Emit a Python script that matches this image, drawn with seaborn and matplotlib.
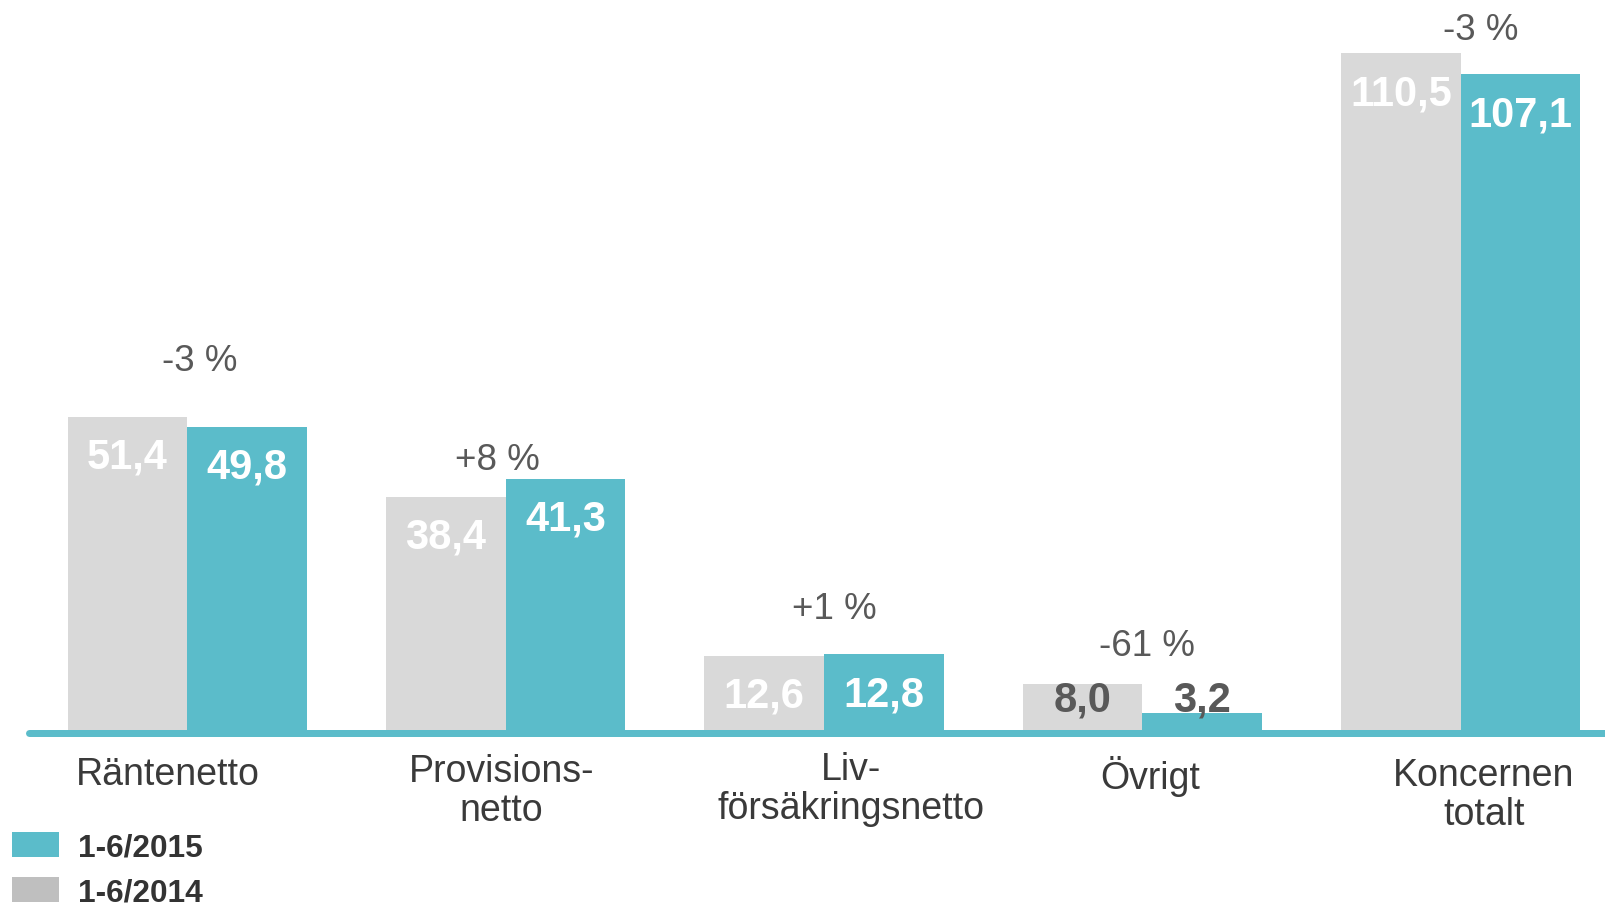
import matplotlib
matplotlib.use("Agg")
import matplotlib.pyplot as plt
import matplotlib.transforms as mtransforms
from matplotlib.patches import Patch
import seaborn as sns
import pandas as pd

# ---- data ----
categories = ["Räntenetto", "Provisions-\nnetto", "Liv-\nförsäkringsnetto", "Övrigt", "Koncernen\ntotalt"]
series = ["1-6/2014", "1-6/2015"]
values_2014 = [51.4, 38.4, 12.6, 8.0, 110.5]
values_2015 = [49.8, 41.3, 12.8, 3.2, 107.1]
change_labels = ["-3 %", "+8 %", "+1 %", "-61 %", "-3 %"]

# ---- layout tweaks (not data) ----
pct_dx = [0.039, -0.027, 0.032, 0.013, 0.061]
pct_dy = [9.2, 3.1, 7.45, 6.25, 3.9]
cat_dx = [-0.061, -0.013, 0.086, 0.025, 0.073]
cat_dy_px = [0, -3, -5, -1, 1]

df = pd.DataFrame({
    "Kategori": categories * 2,
    "Period": [series[0]] * len(categories) + [series[1]] * len(categories),
    "Värde": values_2014 + values_2015,
})

sns.set_theme(style="white")
plt.rcParams["font.family"] = ["Liberation Sans", "DejaVu Sans"]

GRAY = "#D9D9D9"
TEAL = "#5BBCCA"
LEG_GRAY = "#BFBFBF"
PCT_COLOR = "#595959"
CAT_COLOR = "#3A3A3A"

W, H = 1605, 904
PX_PER_UNIT = 6.15
BASE_PX = 734
AX_BOTTOM_PX = 737

fig = plt.figure(figsize=(W / 100, H / 100), dpi=100)
ax = fig.add_axes([29 / W, 1 - AX_BOTTOM_PX / H, 1 - 29 / W, AX_BOTTOM_PX / H])

sns.barplot(data=df, x="Kategori", y="Värde", hue="Period", order=categories,
            hue_order=series, palette=[GRAY, TEAL], width=0.752, gap=0,
            saturation=1, errorbar=None, legend=False, linewidth=0, ax=ax)

ax.set_xlim(-0.497, 4.453)
ax.set_ylim(-(AX_BOTTOM_PX - BASE_PX) / PX_PER_UNIT, BASE_PX / PX_PER_UNIT)
for s in ax.spines.values():
    s.set_visible(False)
ax.set_xticks([])
ax.set_yticks([])
ax.set_xlabel("")
ax.set_ylabel("")

# baseline
ax.axhline(0, color=TEAL, lw=7 * 0.72, clip_on=False, zorder=3)

# value labels
for container, vals in zip(ax.containers, [values_2014, values_2015]):
    for bar, v in zip(container, vals):
        x = bar.get_x() + bar.get_width() / 2
        h = bar.get_height()
        y = max(h - 6.5, 5.4)
        color = "white" if h >= 10 else PCT_COLOR
        ax.text(x, y, f"{v:.1f}".replace(".", ","), ha="center", va="center",
                fontsize=30, fontweight="bold", color=color, zorder=4)

# change labels
for i, lab in enumerate(change_labels):
    y = max(values_2014[i], values_2015[i]) + pct_dy[i]
    ax.text(i + pct_dx[i], y, lab, ha="center", va="center", fontsize=26.5,
            color=PCT_COLOR, clip_on=False)

# category labels
trans = mtransforms.blended_transform_factory(ax.transData, fig.transFigure)
for i, lab in enumerate(categories):
    ytop = 1 - (757 + cat_dy_px[i]) / H
    ax.text(i + cat_dx[i], ytop, lab, transform=trans, ha="center", va="top",
            multialignment="center", fontsize=27, color=CAT_COLOR,
            linespacing=1.09, clip_on=False)

# legend
handles = [Patch(facecolor=TEAL, edgecolor="none", label=series[1]),
           Patch(facecolor=LEG_GRAY, edgecolor="none", label=series[0])]
fig.legend(handles=handles, loc="upper left", bbox_to_anchor=(12.3 / W, 1 - 833 / H),
           frameon=False, prop={"weight": "bold", "size": 22.8}, labelcolor="#333333",
           handlelength=1.46, handleheight=0.82, handletextpad=0.62,
           labelspacing=0.46, borderpad=0, borderaxespad=0)

fig.savefig("out.png", dpi=100)
